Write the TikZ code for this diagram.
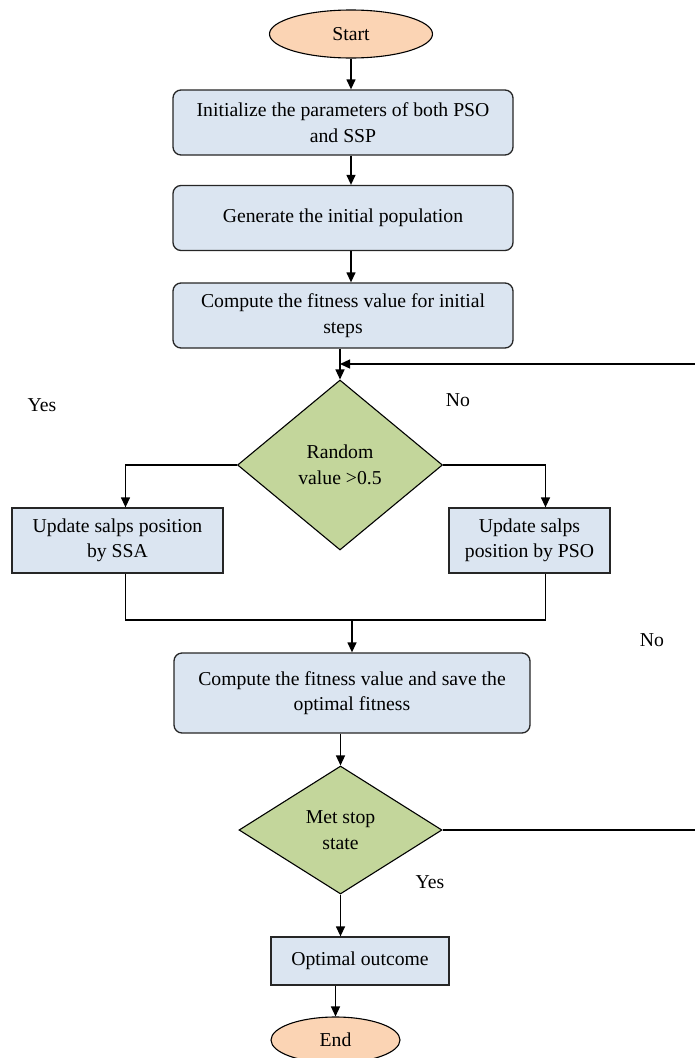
\documentclass[tikz,border=0pt]{standalone}
\usepackage{fontspec}
\setmainfont{Liberation Serif}
\usepackage{xcolor}
\usetikzlibrary{arrows.meta}
\usetikzlibrary{shapes.geometric}
\definecolor{endpeach}{HTML}{FBD4B4}
\definecolor{stepblue}{HTML}{DBE5F1}
\definecolor{testgreen}{HTML}{C3D69B}
\newcommand{\flowfont}{\fontsize{19.7}{25.5}\selectfont}
\tikzset{
  myarrow/.style={
    draw=black,
    line width=1.3pt,
    -{Triangle[length=10pt,width=9pt]},
  },
  myline/.style={
    draw=black,
    line width=1.3pt,
  },
  myellipse/.style={
    draw=black,
    shape=ellipse,
    line width=1.1pt,
    fill=endpeach,
    inner sep=0pt,
    font=\flowfont
  },
  myrectangle/.style={
    draw=black!85,
    shape=rectangle,
    line width=1.3pt,
    rounded corners=8pt,
    fill=stepblue,
    align=center,
    inner sep=0pt,
    minimum width=340pt,
    minimum height=65pt,
    font=\flowfont
  },
  mysquare/.style={
    draw=black!85,
    shape=rectangle,
    line width=1.3pt,
    fill=stepblue,
    align=center,
    inner sep=0pt,
    minimum height=65pt,
    font=\flowfont
  },
  mydiamond/.style={
    draw=black,
    shape=diamond,
    line width=1.1pt,
    fill=testgreen,
    align=center,
    inner sep=0pt,
    font=\flowfont
  },
  mylabel/.style={
    inner sep=0pt,
    font=\flowfont
  }
}

\begin{document}
\begin{tikzpicture}[x=1pt, y=-1pt]
    \useasboundingbox (0,0) rectangle (695,1058);

    \node[myellipse, minimum width=163pt, minimum height=48pt] (start)    at (351,34)      {Start};
    \node[myrectangle]                                          (init)     at (343,122.5)   {Initialize the parameters of both PSO\\ and SSP};
    \node[myrectangle]                                          (generate) at (343,218)     {Generate the initial population};
    \node[myrectangle]                                          (fitness)  at (343,315.5)   {Compute the fitness value for initial\\ steps};
    \node[mydiamond, minimum width=205pt, minimum height=170pt] (random)   at (340,465)     {Random\\ value >0.5};
    \node[mysquare, minimum width=211pt]                        (ssa)      at (117.5,540.5) {Update salps position\\ by SSA};
    \node[mysquare, minimum width=161pt]                        (pso)      at (529.5,540.5) {Update salps\\ position by PSO};
    \node[myrectangle, minimum width=356pt, minimum height=80pt] (save)    at (352,693)     {Compute the fitness value and save the\\ optimal fitness};
    \node[mydiamond, minimum width=203pt, minimum height=128pt] (stop)     at (340.5,830)   {Met stop\\ state};
    \node[mysquare, minimum width=178pt, minimum height=48pt]   (outcome)  at (360,961)     {Optimal outcome};
    \node[myellipse, minimum width=129pt, minimum height=46pt]  (end)      at (335.5,1040)  {End};

    \node[mylabel] (yesrandom) at (42,405)  {Yes};
    \node[mylabel] (norandom)  at (458,400) {No};
    \node[mylabel] (noloop)    at (652,640) {No};
    \node[mylabel] (yesstop)   at (430,882) {Yes};

    \coordinate (loopin)  at (695,364);
    \coordinate (loopout) at (695,830);
    \coordinate (merge)   at (352,620);

    \draw[myarrow] (start.south) -- (start.south |- init.north);
    \draw[myarrow] (init.south -| start) -- (generate.north -| start);
    \draw[myarrow] (generate.south -| start) -- (fitness.north -| start);
    \draw[myarrow] (fitness.south -| random) -- (random.north);
    \draw[myarrow] (loopin) -- (loopin -| random.north);
    \draw[myarrow] (random.west) -| ([xshift=8pt]ssa.north);
    \draw[myarrow] (random.east) -| ([xshift=16pt]pso.north);
    \draw[myline]  ([xshift=8pt]ssa.south) |- (merge) -| ([xshift=16pt]pso.south);
    \draw[myarrow] (merge) -- (merge |- save.north);
    \draw[myarrow] (save.south -| stop) -- (stop.north);
    \draw[myline]  (stop.east) -- (loopout);
    \draw[myarrow] (stop.south) -- (stop.south |- outcome.north);
    \draw[myarrow] (outcome.south -| end) -- (end.north);
\end{tikzpicture}
\end{document}
